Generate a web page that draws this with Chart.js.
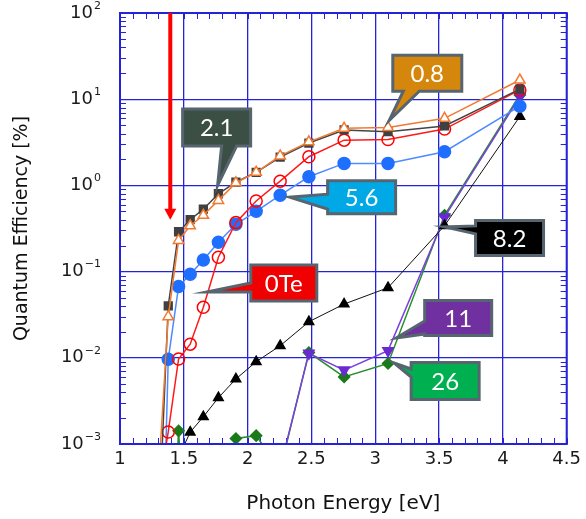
<!DOCTYPE html>
<html>
<head>
<meta charset="utf-8">
<script src="https://cdn.jsdelivr.net/npm/chart.js@4.4.0/dist/chart.umd.min.js"></script>
<style>
  html, body { margin: 0; padding: 0; background: #fff; }
</style>
</head>
<body>
<canvas id="grafico_qe" width="586" height="519"></canvas>
<script>
// photon energies (eV) of the measured wavelengths
var energy = [1.305, 1.378, 1.459, 1.55, 1.653, 1.771, 1.908, 2.067, 2.255, 2.48, 2.756, 3.1, 3.543, 4.133];

// quantum efficiency [%] per series (null = no point)
var qe08  = [5e-4, 0.030, 0.23, 0.34, 0.45, 0.67, 1.07, 1.42, 2.2, 3.2, 4.6, 4.7, 6.0, 16.7];
var qe21  = [1.2e-4, 0.040, 0.29, 0.40, 0.53, 0.80, 1.09, 1.42, 2.13, 3.1, 4.4, 4.2, 4.9, 13.1];
var qe0Te = [3e-4, 0.00138, 0.0097, 0.0144, 0.0386, 0.147, 0.37, 0.66, 1.12, 2.15, 3.35, 3.4, 4.5, 12.8];
var qe56  = [1e-6, 0.0096, 0.067, 0.093, 0.136, 0.219, 0.354, 0.50, 0.77, 1.26, 1.80, 1.80, 2.46, 8.3];
var qe82  = [null, null, 7e-4, 0.00137, 0.00207, 0.00344, 0.00568, 0.0090, 0.0138, 0.0262, 0.042, 0.065, 0.341, 6.3];
var qe11  = [null, null, null, null, null, null, null, null, 5.3e-4, 0.0113, 0.0072, 0.0121, 0.43, 10.7];
var qe26  = [null, 1e-5, 0.00142, 1e-5, null, 3e-4, 0.00116, 0.00125, 5e-4, 0.0115, 0.0060, 0.0086, 0.45, 11.2];

var xTicks = [1, 1.5, 2, 2.5, 3, 3.5, 4, 4.5];
var yExponents = [-3, -2, -1, 0, 1, 2];

// callout labels: text, colour, tip position (data), box offset from tip (px)
var callouts = [
  { text: '2.1', fill: '#3c4f45', x: 1.765, y: 1.0,   dx: -1,  dy: -58, w: 68, h: 37, side: 'bottom', t1: 5,  t2: 20 },
  { text: '0.8', fill: '#d4870c', x: 3.110, y: 5.7,   dx: 38,  dy: -47, w: 69, h: 36, side: 'bottom', t1: -24, t2: -8 },
  { text: '5.6', fill: '#00a8e6', x: 2.329, y: 0.73,  dx: 72,  dy: 0,   w: 68, h: 33, side: 'left',   t1: -3, t2: 12 },
  { text: '8.2', fill: '#000000', x: 3.543, y: 0.33,  dx: 65,  dy: 11,  w: 68, h: 35, side: 'left',   t1: -12, t2: -4 },
  { text: '0Te', fill: '#f00000', x: 1.680, y: 0.058, dx: 77,  dy: -9,  w: 66, h: 36, side: 'left',   t1: 0,  t2: 9 },
  { text: '11',  fill: '#7030a0', x: 3.164, y: 0.017, dx: 62,  dy: -20, w: 67, h: 35, side: 'left',   t1: 3,  t2: 16 },
  { text: '26',  fill: '#00b050', x: 3.148, y: 0.0087, dx: 51, dy: 18,  w: 68, h: 37, side: 'left',   t1: -12, t2: -4 }
];

// red arrow marker
var arrowX = 1.394;
var arrowTip = 0.40;

var gridBlue = '#2424d6';

function pts(arr) {
  return energy.map(function (e, i) { return { x: e, y: arr[i] }; });
}

function series(label, arr, line, fill, edge, style, radius, extra) {
  var d = {
    label: label,
    data: pts(arr),
    borderColor: line,
    borderWidth: 1.5,
    pointStyle: style,
    pointRadius: radius,
    pointBackgroundColor: fill,
    pointBorderColor: edge,
    pointBorderWidth: 1.5,
    tension: 0,
    spanGaps: false
  };
  for (var k in extra) d[k] = extra[k];
  return d;
}

var data = {
  datasets: [
    series('0.8', qe08, '#f07a32', '#ffffff', '#f07a32', 'triangle', 6),
    series('2.1', qe21, '#454545', '#404040', '#404040', 'rect', 5.5),
    series('0Te', qe0Te, '#ff1a1a', 'rgba(255,255,255,0)', '#ff0000', 'circle', 6),
    series('5.6', qe56, '#4d8bff', '#1f6fff', '#1f6fff', 'circle', 6),
    series('8.2', qe82, '#111111', '#000000', '#000000', 'triangle', 5.5, { borderWidth: 1 }),
    series('11', qe11, '#7b3fe0', '#6a2ad2', '#6a2ad2', 'triangle', 6, { pointRotation: 180 }),
    series('26', qe26, '#2a8f2a', '#1a7a1a', '#1a7a1a', 'rectRot', 5.5)
  ]
};

var decorPlugin = {
  id: 'decor',
  beforeDatasetsDraw: function (chart) {
    var ctx = chart.ctx, a = chart.chartArea;
    var xs = chart.scales.x, ys = chart.scales.y;
    ctx.save();
    ctx.strokeStyle = gridBlue;
    ctx.lineWidth = 1;
    ctx.beginPath();
    // minor x ticks every 0.1 eV, top and bottom, inward
    for (var i = 10; i <= 45; i++) {
      var px = Math.round(xs.getPixelForValue(i / 10)) + 0.5;
      ctx.moveTo(px, a.bottom); ctx.lineTo(px, a.bottom - 6);
      ctx.moveTo(px, a.top); ctx.lineTo(px, a.top + 6);
    }
    // minor y ticks 2..9 per decade, left and right, inward
    for (var e = -3; e < 2; e++) {
      for (var m = 2; m <= 9; m++) {
        var py = Math.round(ys.getPixelForValue(m * Math.pow(10, e))) + 0.5;
        ctx.moveTo(a.left, py); ctx.lineTo(a.left + 6, py);
        ctx.moveTo(a.right, py); ctx.lineTo(a.right - 6, py);
      }
    }
    ctx.stroke();
    ctx.restore();
  },
  afterDatasetsDraw: function (chart) {
    var ctx = chart.ctx, a = chart.chartArea;
    var xs = chart.scales.x, ys = chart.scales.y;
    ctx.save();
    // frame
    ctx.strokeStyle = gridBlue;
    ctx.lineWidth = 2;
    ctx.strokeRect(a.left, a.top, a.right - a.left, a.bottom - a.top);

    // y tick labels 10^n
    ctx.fillStyle = '#1a1a1a';
    ctx.textBaseline = 'middle';
    yExponents.forEach(function (n) {
      var py = ys.getPixelForValue(Math.pow(10, n));
      var exp = String(n).replace('-', '\u2212');
      ctx.font = '11px "DejaVu Sans"';
      var ew = ctx.measureText(exp).width;
      ctx.textAlign = 'right';
      ctx.fillText(exp, 101, py - 7);
      ctx.font = '18px "DejaVu Sans"';
      ctx.fillText('10', 101 - ew - 1, py);
    });

    // red arrow
    var ax = xs.getPixelForValue(arrowX);
    var ay = ys.getPixelForValue(arrowTip);
    ctx.strokeStyle = '#ff0000';
    ctx.fillStyle = '#ff0000';
    ctx.lineWidth = 4;
    ctx.beginPath();
    ctx.moveTo(ax, a.top);
    ctx.lineTo(ax, ay - 9);
    ctx.stroke();
    ctx.beginPath();
    ctx.moveTo(ax - 6, ay - 11);
    ctx.lineTo(ax + 6, ay - 11);
    ctx.lineTo(ax, ay);
    ctx.closePath();
    ctx.fill();

    // callouts
    callouts.forEach(function (c) {
      var tx = xs.getPixelForValue(c.x), ty = ys.getPixelForValue(c.y);
      var cx = tx + c.dx, cy = ty + c.dy;
      var l = cx - c.w / 2, r = cx + c.w / 2, t = cy - c.h / 2, b = cy + c.h / 2;
      ctx.beginPath();
      if (c.side === 'bottom') {
        ctx.moveTo(l, t); ctx.lineTo(r, t); ctx.lineTo(r, b);
        ctx.lineTo(cx + c.t2, b); ctx.lineTo(tx, ty); ctx.lineTo(cx + c.t1, b);
        ctx.lineTo(l, b);
      } else {
        ctx.moveTo(l, t); ctx.lineTo(r, t); ctx.lineTo(r, b); ctx.lineTo(l, b);
        ctx.lineTo(l, cy + c.t2); ctx.lineTo(tx, ty); ctx.lineTo(l, cy + c.t1);
      }
      ctx.closePath();
      ctx.fillStyle = c.fill;
      ctx.fill();
      ctx.lineWidth = 3;
      ctx.lineJoin = 'miter';
      ctx.strokeStyle = '#56656f';
      ctx.stroke();
      ctx.fillStyle = '#ffffff';
      ctx.font = '24px Lato';
      ctx.textAlign = 'center';
      ctx.textBaseline = 'middle';
      ctx.fillText(c.text, cx, cy + 1);
    });
    ctx.restore();
  }
};

var options = {
  responsive: false,
  animation: false,
  layout: { padding: { top: 13, right: 14, left: 0, bottom: 0 } },
  plugins: { legend: { display: false }, tooltip: { enabled: false } },
  scales: {
    x: {
      type: 'linear',
      min: 1,
      max: 4.5,
      afterBuildTicks: function (s) { s.ticks = xTicks.map(function (v) { return { value: v }; }); },
      ticks: {
        color: '#1a1a1a', font: { family: 'DejaVu Sans', size: 18 }, padding: 5, maxRotation: 0, autoSkip: false,
        callback: function (v) { return String(v); }
      },
      grid: { color: gridBlue, lineWidth: 1.3, drawTicks: false },
      border: { color: gridBlue, width: 2 },
      title: { display: true, text: 'Photon Energy [eV]', color: '#111', font: { family: 'DejaVu Sans', size: 20 }, padding: { top: 0, bottom: 3 } },
      afterFit: function (s) { s.height = 75; }
    },
    y: {
      type: 'logarithmic',
      min: 1e-3,
      max: 100,
      afterBuildTicks: function (s) { s.ticks = yExponents.map(function (n) { return { value: Math.pow(10, n) }; }); },
      ticks: { display: false },
      grid: { color: gridBlue, lineWidth: 1.3, drawTicks: false },
      border: { color: gridBlue, width: 2 },
      title: { display: true, text: 'Quantum Efficiency [%]', color: '#111', font: { family: 'DejaVu Sans', size: 19 }, padding: { top: 11, bottom: 0 } },
      afterFit: function (s) { s.width = 120; }
    }
  }
};

var ctx = document.getElementById('grafico_qe').getContext('2d');
var qeChart = new Chart(ctx, {
  type: 'line',
  data: data,
  options: options,
  plugins: [decorPlugin]
});
</script>
</body>
</html>
